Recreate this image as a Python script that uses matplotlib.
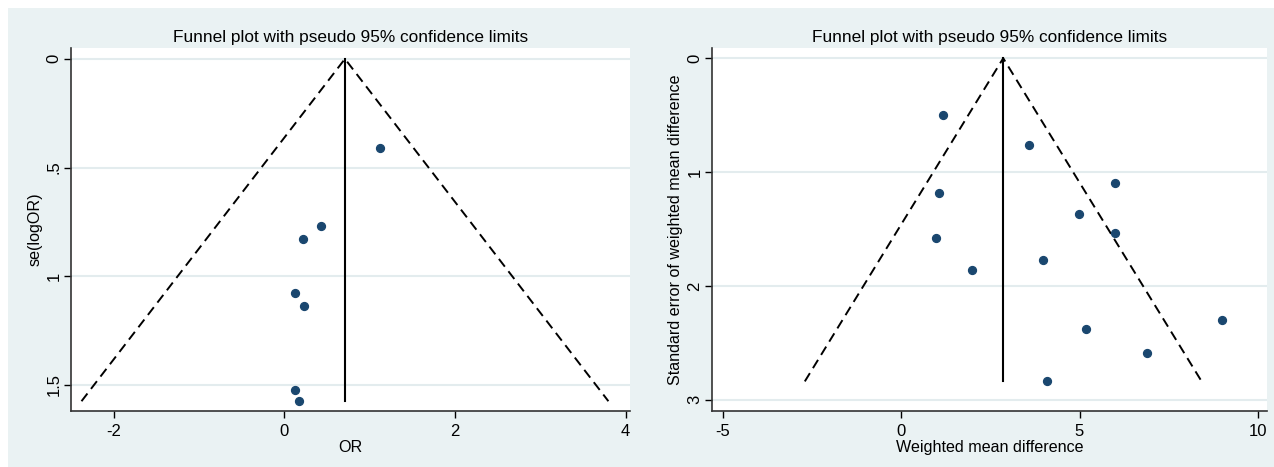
import matplotlib.pyplot as plt
from matplotlib.patches import Rectangle

plt.rcParams['font.family'] = ['Liberation Sans', 'DejaVu Sans']
plt.rcParams['axes.unicode_minus'] = False

# Left panel: odds ratios and their standard errors
or_values = [1.12, 0.43, 0.22, 0.13, 0.23, 0.13, 0.17]
or_se = [0.409, 0.771, 0.828, 1.075, 1.137, 1.522, 1.575]
or_pooled = 0.71

# Right panel: weighted mean differences and their standard errors
wmd_values = [1.17, 3.59, 5.99, 1.07, 4.98, 5.99, 0.98, 3.98, 1.98, 8.99, 5.17, 6.88, 4.08]
wmd_se = [0.497, 0.759, 1.095, 1.18, 1.365, 1.533, 1.583, 1.774, 1.86, 2.30, 2.375, 2.59, 2.84]
wmd_pooled = 2.86

title = 'Funnel plot with pseudo 95% confidence limits'

bg = '#eaf2f3'
grid_col = '#e3ecee'
navy = '#1a476f'

fig = plt.figure(figsize=(12.74, 4.67), dpi=100, facecolor='white')
fig.patches.append(Rectangle((8 / 1274, 0), 1, 459 / 467, transform=fig.transFigure,
                             facecolor=bg, edgecolor='none', zorder=-1))


def funnel(ax, x, se, pooled, xlim, ylim, xticks, yticks, yticklabels, xlabel, ylabel):
    ax.set_facecolor('white')
    se_max = max(se)
    # pseudo 95% confidence limits
    ax.plot([pooled - 1.96 * se_max, pooled, pooled + 1.96 * se_max], [se_max, 0, se_max],
            color='black', linestyle=(0, (5, 3)), linewidth=1.4, zorder=2)
    ax.plot([pooled, pooled], [0, se_max], color='black', linewidth=1.5, zorder=2)
    ax.scatter(x, se, s=32, color=navy, zorder=3)

    ax.set_xlim(*xlim)
    ax.set_ylim(*ylim)
    ax.set_xticks(xticks)
    ax.set_yticks(yticks)
    ax.set_yticklabels(yticklabels, rotation=90, va='center')
    ax.tick_params(direction='out', length=5, width=1, labelsize=12, pad=2)
    ax.tick_params(axis='x', pad=4)
    ax.yaxis.grid(True, color=grid_col, linewidth=1.5)
    ax.set_axisbelow(True)
    for side in ['top', 'right']:
        ax.spines[side].set_visible(False)
    for side in ['left', 'bottom']:
        ax.spines[side].set_linewidth(1.2)
        ax.spines[side].set_color('#333333')
    ax.set_title(title, fontsize=12.4, pad=4)
    ax.set_xlabel(xlabel, fontsize=11.6, labelpad=1)
    ax.set_ylabel(ylabel, fontsize=11.6, labelpad=3)


ax1 = fig.add_axes([71 / 1274, 56 / 467, 559 / 1274, 363 / 467])
funnel(ax1, or_values, or_se, or_pooled, (-2.5, 4.05), (1.62, -0.05),
       [-2, 0, 2, 4], [0, 0.5, 1, 1.5], ['0', '.5', '1', '1.5'], 'OR', 'se(logOR)')

ax2 = fig.add_axes([712 / 1274, 56 / 467, 555 / 1274, 363 / 467])
funnel(ax2, wmd_values, wmd_se, wmd_pooled, (-5.31, 10.26), (3.10, -0.09),
       [-5, 0, 5, 10], [0, 1, 2, 3], ['0', '1', '2', '3'],
       'Weighted mean difference', 'Standard error of weighted mean difference')

fig.savefig('out.png', dpi=100, facecolor=fig.get_facecolor())
